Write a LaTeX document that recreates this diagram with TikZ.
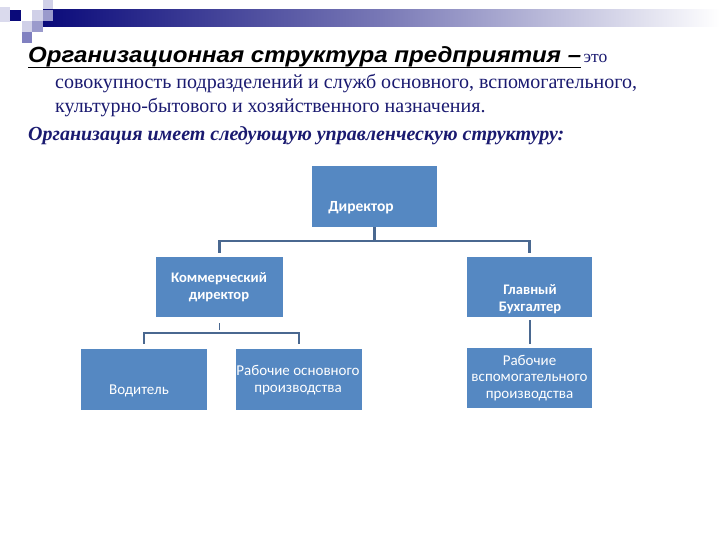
\documentclass[tikz,border=0pt]{standalone}
\usepackage{graphicx}
\usepackage{fontspec}
\setmainfont{Liberation Serif}
\newfontfamily\arialf{Liberation Sans}
\newfontfamily\calib{Carlito}
\definecolor{navytext}{HTML}{1A1A70}
\definecolor{boxblue}{HTML}{5588C2}
\definecolor{linkblue}{HTML}{4A6890}
\definecolor{barnavy}{HTML}{0A0A7A}
\definecolor{sqlight}{HTML}{D0D0E8}
\definecolor{sqmid}{HTML}{9A9ACC}
\definecolor{sqdark}{HTML}{8080C0}
\tikzset{
  orgbox/.style={draw=none,fill=boxblue,minimum width=125pt,minimum height=61pt,inner sep=0pt},
  boxtxt/.style={text=white,font=\calib\fontsize{15}{16.5}\selectfont,align=center,inner sep=0pt},
  boxtxtb/.style={boxtxt,font=\calib\bfseries\fontsize{14.6}{16.5}\selectfont},
  link/.style={draw=linkblue,line width=2.4pt},
  bodytxt/.style={anchor=base west,inner sep=0pt,text=navytext,font=\fontsize{20}{22}\selectfont}
}
\begin{document}
\begin{tikzpicture}[x=1pt,y=-1pt]
\useasboundingbox (0,0) rectangle (720,540);
% header bar and squares
\shade[left color=barnavy,right color=white,middle color=barnavy!55!white] (43,10) rectangle (720,27);
\fill[sqlight!80!white] (0,7) rectangle (10,22);
\fill[barnavy] (10,10) rectangle (21,21);
\fill[sqlight] (43,0) rectangle (53,9);
\fill[sqlight] (32,10) rectangle (43,21);
\fill[sqmid] (43,10) rectangle (53,21);
\fill[sqlight] (22,21) rectangle (32,32);
\fill[sqmid] (32,21) rectangle (43,32);
\fill[sqdark] (22,32) rectangle (32,43);
% texts
\node[anchor=base west,inner sep=0pt] (ttl) at (28,63)
  {\scalebox{1.095}[1]{\arialf\bfseries\itshape\fontsize{22}{24}\selectfont Организационная структура предприятия –}\hspace{7pt}};
\draw[line width=1.3pt] ([yshift=-4.5pt]ttl.base west) -- ([yshift=-4.5pt]ttl.base east);
\node[anchor=base west,inner sep=0pt,text=navytext,font=\fontsize{17.5}{20}\selectfont] (eto) at ([xshift=2pt]ttl.base east) {это};
\node[bodytxt] (l2) at (55,89)
  {совокупность подразделений и служб основного, вспомогательного,};
\node[bodytxt] (l3) at (55,113)
  {культурно-бытового и хозяйственного назначения.};
\node[bodytxt,font=\bfseries\itshape\fontsize{20}{22}\selectfont] (l4) at (28,141)
  {Организация имеет следующую управленческую структуру:};
% boxes
\node[orgbox] (dir) at (374.5,196.5) {};
\node[orgbox,minimum width=127pt,minimum height=60pt] (kom) at (219.5,287) {};
\node[orgbox,minimum height=60pt] (buh) at (529.5,287) {};
\node[orgbox,minimum width=126pt] (vod) at (144,379.5) {};
\node[orgbox,minimum width=126pt] (rob) at (299,379.5) {};
\node[orgbox,minimum height=60pt] (rvs) at (529.5,378) {};
% box texts
\node[boxtxtb,font=\calib\bfseries\fontsize{15.5}{16.5}\selectfont] (tdir) at (361,208) {Директор};
\node[boxtxtb] (tkom) at (219,287) {Коммерческий\\директор};
\node[boxtxtb] (tbuh) at (530,299) {Главный\\Бухгалтер};
\node[boxtxt] (tvod) at (139,391) {Водитель};
\node[boxtxt] (trob) at (298,380) {Рабочие основного\\производства};
\node[boxtxt] (trvs) at (529.5,378) {Рабочие\\вспомогательного\\производства};
% connectors
\coordinate (j1) at (374,241);
\coordinate (j2) at (219,333);
\draw[link] (dir.south) -- (dir.south |- j1);
\draw[link] ([yshift=4pt]kom.north) |- (j1) -| ([yshift=4pt]buh.north);
\draw[link,line width=1.6pt] ([yshift=-6pt]kom.south) -- ([yshift=-13pt]kom.south);
\draw[link] ([yshift=5pt]vod.north) |- (j2) -| ([yshift=5pt]rob.north);
\draw[link,line width=2pt] ([yshift=-3pt]buh.south) -- ([yshift=4pt]rvs.north);
\end{tikzpicture}
\end{document}
